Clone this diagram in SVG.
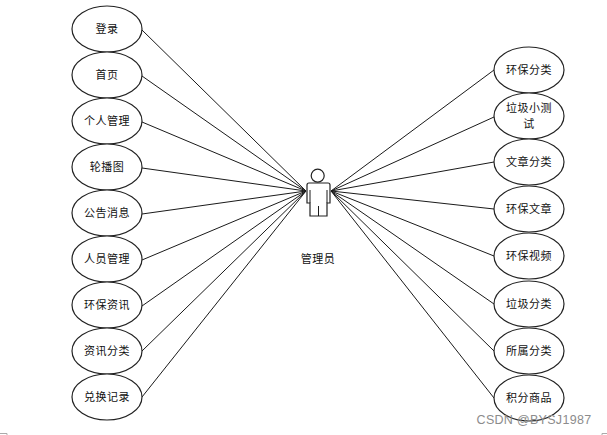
<svg xmlns="http://www.w3.org/2000/svg" width="607" height="435" viewBox="0 0 607 435">
<style>
.u{fill:#fff;stroke:#222;stroke-width:1.2}
.c{stroke:#1a1a1a;stroke-width:1;fill:none}
text{font-family:"Noto Sans CJK SC","Liberation Sans",sans-serif;font-size:11px;fill:#111;text-anchor:middle;letter-spacing:.5px}
</style>
<rect width="607" height="435" fill="#fff"/>
<path d="M0 433.500H7V435M602 435V433.500H607" fill="none" stroke="#aaa" stroke-width="1"/>
<g id="connectors">
<path class="c" d="M142 30L306 191M142 76L306 191M142 122L306 191M142 168L306 191M142 214L306 191M142 260L306 191M142 306L306 191M142 351L306 191M142 397L306 191"/>
<path class="c" d="M494 70L331 191M494 117L331 191M494 162L331 191M494 209L331 191M494 256L331 191M494 304L331 191M494 351L331 191M494 398L331 191"/>
</g>
<g id="n1"><ellipse class="u" cx="107" cy="29" rx="35" ry="23"/><text x="107" y="33">登录</text></g>
<g id="n2"><ellipse class="u" cx="107" cy="75" rx="35" ry="23"/><text x="107" y="79">首页</text></g>
<g id="n3"><ellipse class="u" cx="107" cy="121" rx="35" ry="23"/><text x="107" y="125">个人管理</text></g>
<g id="n4"><ellipse class="u" cx="107" cy="167" rx="35" ry="23"/><text x="107" y="171">轮播图</text></g>
<g id="n5"><ellipse class="u" cx="107" cy="213" rx="35" ry="23"/><text x="107" y="217">公告消息</text></g>
<g id="n6"><ellipse class="u" cx="107" cy="259" rx="35" ry="23"/><text x="107" y="263">人员管理</text></g>
<g id="n7"><ellipse class="u" cx="107" cy="305" rx="35" ry="23"/><text x="107" y="309">环保资讯</text></g>
<g id="n8"><ellipse class="u" cx="107" cy="351" rx="35" ry="23"/><text x="107" y="355">资讯分类</text></g>
<g id="n9"><ellipse class="u" cx="107" cy="397" rx="35" ry="23"/><text x="107" y="401">兑换记录</text></g>
<g id="n10"><ellipse class="u" cx="529" cy="70" rx="35" ry="23"/><text x="529" y="74">环保分类</text></g>
<g id="n11"><ellipse class="u" cx="529" cy="116" rx="35" ry="23"/><text x="529" y="112">垃圾小测</text><text x="529" y="128">试</text></g>
<g id="n12"><ellipse class="u" cx="529" cy="162" rx="35" ry="23"/><text x="529" y="166">文章分类</text></g>
<g id="n13"><ellipse class="u" cx="529" cy="209" rx="35" ry="23"/><text x="529" y="213">环保文章</text></g>
<g id="n14"><ellipse class="u" cx="529" cy="256" rx="35" ry="23"/><text x="529" y="260">环保视频</text></g>
<g id="n15"><ellipse class="u" cx="529" cy="304" rx="35" ry="23"/><text x="529" y="308">垃圾分类</text></g>
<g id="n16"><ellipse class="u" cx="529" cy="351" rx="35" ry="23"/><text x="529" y="355">所属分类</text></g>
<g id="n17"><ellipse class="u" cx="529" cy="398" rx="35" ry="23"/><text x="529" y="402">积分商品</text></g>
<g id="actor">
<circle class="u" cx="317.7" cy="175.7" r="6.5"/>
<path class="u" d="M309 183H328Q330 183 330 185V203H327V216H310V203H307V185Q307 183 309 183Z"/>
<path class="c" d="M310 190V203M327 190V203M318.500 206V216"/>
<text x="318" y="263">管理员</text>
</g>
<text x="534" y="424" style="font-family:'Liberation Sans',sans-serif;font-size:12.500px;fill:#8c8c8c;letter-spacing:.3px">CSDN @BYSJ1987</text>
</svg>
